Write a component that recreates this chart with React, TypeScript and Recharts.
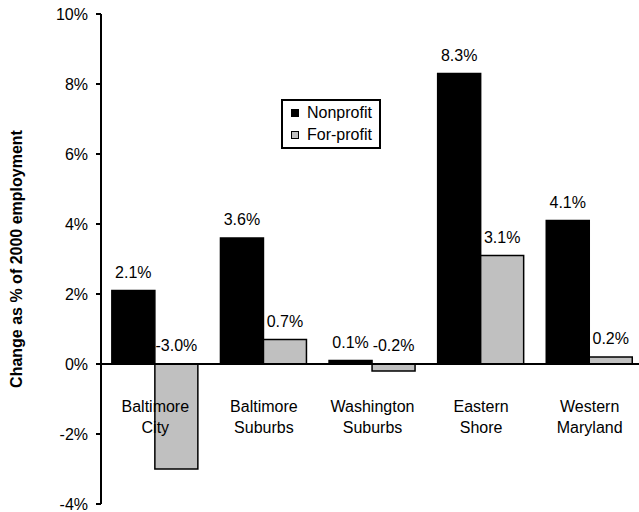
import React from 'react';
import { BarChart, Bar, XAxis, YAxis, ReferenceLine, LabelList, Label } from 'recharts';

const categories = ['Baltimore City', 'Baltimore Suburbs', 'Washington Suburbs', 'Eastern Shore', 'Western Maryland'];
const nonprofit = [2.1, 3.6, 0.1, 8.3, 4.1];
const forprofit = [-3.0, 0.7, -0.2, 3.1, 0.2];
const seriesNames = ['Nonprofit', 'For-profit'];
const seriesColors = ['#000000', '#C0C0C0'];
const yTicks = [-4, -2, 0, 2, 4, 6, 8, 10];
const yTitle = 'Change as % of 2000 employment';

const data = categories.map((c, i) => ({ name: c, nonprofit: nonprofit[i], forprofit: forprofit[i] }));

const FONT = '"Liberation Sans", Arial, sans-serif';

const CatTick = (props: any) => {
  const { x, y, payload } = props;
  const s = String(payload.value);
  const idx = s.indexOf(' ');
  const l1 = idx >= 0 ? s.slice(0, idx) : s;
  const l2 = idx >= 0 ? s.slice(idx + 1) : '';
  return (
    <g>
      <text x={x} y={y - 92} textAnchor="middle" fontSize={16} fontFamily={FONT} fill="#000">{l1}</text>
      <text x={x} y={y - 71} textAnchor="middle" fontSize={16} fontFamily={FONT} fill="#000">{l2}</text>
    </g>
  );
};

const ValueLabel = (props: any) => {
  const { x, y, width, height, value } = props;
  const top = Math.min(Number(y), Number(y) + Number(height));
  return (
    <text x={Number(x) + Number(width) / 2} y={top - 13} textAnchor="middle" fontSize={16} fontFamily={FONT} fill="#000">
      {Number(value).toFixed(1)}%
    </text>
  );
};

const YTitle = (props: any) => {
  const vb = props.viewBox || {};
  const cy = (vb.y || 0) + (vb.height || 0) / 2;
  const cx = (vb.x || 0) + 22;
  return (
    <text x={cx} y={cy} transform={`rotate(-90 ${cx} ${cy})`} textAnchor="middle" fontSize={16} fontWeight="bold" fontFamily={FONT} fill="#000">
      {yTitle}
    </text>
  );
};

export default function App() {
  return (
    <div style={{ position: 'absolute', left: 0, top: 0, width: 639, height: 512, overflow: 'hidden', background: '#fff', fontFamily: FONT }}>
      <BarChart width={644} height={512} data={data} margin={{ top: 14, right: 0, bottom: 0, left: 0 }} barCategoryGap="10%" barGap={0}>
        <XAxis dataKey="name" height={8} axisLine={false} tickLine={false} tickSize={0} tickMargin={0} tick={<CatTick />} interval={0} />
        <YAxis
          type="number"
          domain={[-4, 10]}
          ticks={yTicks}
          width={101}
          tickFormatter={(v: number) => `${v}%`}
          axisLine={{ stroke: '#000', strokeWidth: 2 }}
          tickLine={{ stroke: '#000', strokeWidth: 2 }}
          tickSize={5}
          tickMargin={8}
          tick={{ fill: '#000', fontSize: 16, fontFamily: FONT }}
          interval={0}
        >
          <Label content={<YTitle />} />
        </YAxis>
        <Bar dataKey="nonprofit" name={seriesNames[0]} fill={seriesColors[0]} stroke="#000" strokeWidth={1.5} isAnimationActive={false}>
          <LabelList dataKey="nonprofit" content={<ValueLabel />} />
        </Bar>
        <Bar dataKey="forprofit" name={seriesNames[1]} fill={seriesColors[1]} stroke="#000" strokeWidth={1.5} isAnimationActive={false}>
          <LabelList dataKey="forprofit" content={<ValueLabel />} />
        </Bar>
        <ReferenceLine y={0} stroke="#000" strokeWidth={2} />
      </BarChart>
      <div style={{ position: 'absolute', left: 281, top: 99, border: '2px solid #000', background: '#fff', width: 96, paddingTop: 1, paddingBottom: 1, boxSizing: 'content-box' }}>
        {seriesNames.map((n, i) => (
          <div key={n} style={{ height: 22, display: 'flex', alignItems: 'center', fontSize: 16, color: '#000', whiteSpace: 'nowrap' }}>
            <span style={{ display: 'inline-block', width: 6, height: 6, border: '1.5px solid #000', background: seriesColors[i], marginLeft: 8, marginRight: 8 }} />
            <span>{n}</span>
          </div>
        ))}
      </div>
    </div>
  );
}
